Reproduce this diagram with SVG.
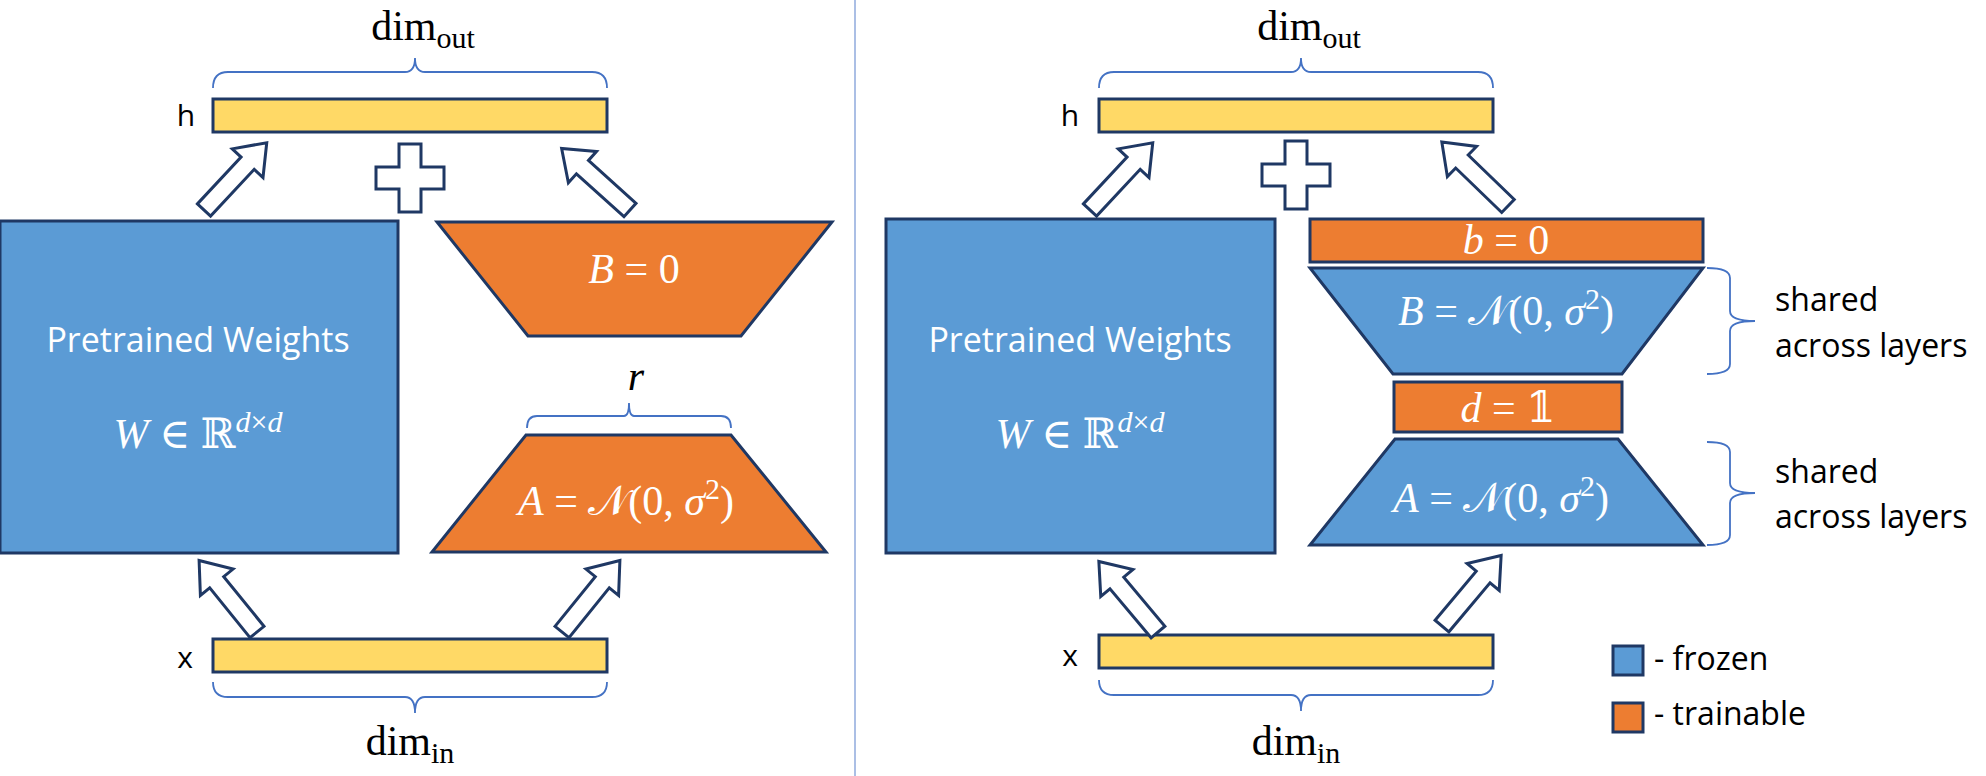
<svg xmlns="http://www.w3.org/2000/svg" width="1986" height="776" viewBox="0 0 1986 776">
<style>
.bar{fill:#FFD966;stroke:#1F3864;stroke-width:3}
.blue{fill:#5B9BD5;stroke:#1F3864;stroke-width:3}
.orange{fill:#ED7D31;stroke:#1F3864;stroke-width:3}
.arrow{fill:#fff;stroke:#1F3864;stroke-width:3;stroke-linejoin:miter}
.brace{fill:none;stroke:#4472C4;stroke-width:1.8}
.math{font-family:"Liberation Serif","DejaVu Serif",serif;font-size:42px}
.mw{fill:#fff}
.it{font-style:italic}
.sans{font-family:"Open Sans","Liberation Sans",sans-serif}
</style>
<defs>
<path id="arr" class="arrow" d="M0,-9 L64,-9 L64,-21 L92,0 L64,21 L64,9 L0,9 Z"/>
<path id="plus" class="arrow" d="M-11,-34 H11 V-11 H34 V11 H11 V34 H-11 V11 H-34 V-11 H-11 Z"/>
</defs>
<line x1="855" y1="0" x2="855" y2="776" stroke="#8FAADC" stroke-width="1.5"/>

<g id="left-panel">
<g id="dimout-left"><text x="423" y="40" class="math" text-anchor="middle">dim<tspan font-size="30" dy="8">out</tspan></text>
<path class="brace" d="M213,88 Q213,72 228,72 H405 Q415,72 415,58 Q415,72 425,72 H592 Q607,72 607,88"/></g>
<g id="h-left"><text x="186" y="126" class="sans" font-size="30" text-anchor="middle">h</text>
<rect class="bar" x="213" y="99" width="394" height="33"/></g>
<g id="plus-left"><use href="#plus" x="410" y="178"/></g>
<g id="W-left"><rect class="blue" x="0" y="221" width="398" height="332"/>
<text x="198" y="352" class="sans mw" font-size="34" text-anchor="middle">Pretrained Weights</text>
<text x="198" y="448" class="math mw" text-anchor="middle"><tspan class="it">W</tspan> ∈ ℝ<tspan class="it" font-size="30" dy="-16">d</tspan><tspan font-size="30">×</tspan><tspan class="it" font-size="30">d</tspan></text></g>
<g id="B-left"><polygon class="orange" points="437,222 832,222 741,336 528,336"/>
<text x="634" y="283" class="math mw" text-anchor="middle"><tspan class="it">B</tspan> = 0</text></g>
<g id="r-left"><text x="636" y="390" class="math it" text-anchor="middle">r</text>
<path class="brace" d="M527,428 Q527,416 537,416 H624 Q629,416 629,403 Q629,416 634,416 H721 Q731,416 731,428"/></g>
<g id="A-left"><polygon class="orange" points="526,435 731,435 826,552 432,552"/>
<text x="626" y="515" class="math mw" text-anchor="middle"><tspan class="it">A</tspan> = 𝒩(0, <tspan class="it">σ</tspan><tspan font-size="30" dy="-16">2</tspan><tspan dy="16">)</tspan></text></g>
<g id="x-left"><text x="185" y="668" class="sans" font-size="30" text-anchor="middle">x</text>
<rect class="bar" x="213" y="639" width="394" height="33"/>
<path class="brace" d="M213,682 Q213,697 228,697 H405 Q415,697 415,713 Q415,697 425,697 H592 Q607,697 607,682"/>
<text x="410" y="755" class="math" text-anchor="middle">dim<tspan font-size="30" dy="8">in</tspan></text></g>
</g>

<g id="right-panel">
<g id="dimout-right"><text x="1309" y="40" class="math" text-anchor="middle">dim<tspan font-size="30" dy="8">out</tspan></text>
<path class="brace" d="M1099,88 Q1099,72 1114,72 H1291 Q1301,72 1301,58 Q1301,72 1311,72 H1478 Q1493,72 1493,88"/></g>
<g id="h-right"><text x="1070" y="126" class="sans" font-size="30" text-anchor="middle">h</text>
<rect class="bar" x="1099" y="99" width="394" height="33"/></g>
<g id="plus-right"><use href="#plus" x="1296" y="175"/></g>
<g id="W-right"><rect class="blue" x="886" y="219" width="389" height="334"/>
<text x="1080" y="352" class="sans mw" font-size="34" text-anchor="middle">Pretrained Weights</text>
<text x="1080" y="448" class="math mw" text-anchor="middle"><tspan class="it">W</tspan> ∈ ℝ<tspan class="it" font-size="30" dy="-16">d</tspan><tspan font-size="30">×</tspan><tspan class="it" font-size="30">d</tspan></text></g>
<g id="b-right"><rect class="orange" x="1310" y="219" width="393" height="43"/>
<text x="1506" y="254" class="math mw" text-anchor="middle"><tspan class="it">b</tspan> = 0</text></g>
<g id="B-right"><polygon class="blue" points="1310,268 1703,268 1622,374 1393,374"/>
<text x="1506" y="325" class="math mw" text-anchor="middle"><tspan class="it">B</tspan> = 𝒩(0, <tspan class="it">σ</tspan><tspan font-size="30" dy="-16">2</tspan><tspan dy="16">)</tspan></text></g>
<g id="d-right"><rect class="orange" x="1394" y="382" width="228" height="50"/>
<text x="1508" y="422" class="math mw" text-anchor="middle"><tspan class="it">d</tspan> = 𝟙</text></g>
<g id="A-right"><polygon class="blue" points="1395,439 1618,439 1703,545 1310,545"/>
<text x="1501" y="512" class="math mw" text-anchor="middle"><tspan class="it">A</tspan> = 𝒩(0, <tspan class="it">σ</tspan><tspan font-size="30" dy="-16">2</tspan><tspan dy="16">)</tspan></text></g>
<g id="shared-1"><path class="brace" d="M1707,268 Q1730,268 1730,278 V311 Q1730,321 1755,321 Q1730,321 1730,331 V364 Q1730,374 1707,374"/>
<text class="sans" font-size="32"><tspan x="1775" y="311">shared</tspan><tspan x="1775" y="357">across layers</tspan></text></g>
<g id="shared-2"><path class="brace" d="M1707,442 Q1730,442 1730,452 V483 Q1730,493 1755,493 Q1730,493 1730,503 V535 Q1730,545 1707,545"/>
<text class="sans" font-size="32"><tspan x="1775" y="483">shared</tspan><tspan x="1775" y="528">across layers</tspan></text></g>
<g id="x-right"><text x="1070" y="666" class="sans" font-size="30" text-anchor="middle">x</text>
<rect class="bar" x="1099" y="635" width="394" height="33"/>
<path class="brace" d="M1099,680 Q1099,695 1114,695 H1291 Q1301,695 1301,711 Q1301,695 1311,695 H1478 Q1493,695 1493,680"/>
<text x="1296" y="755" class="math" text-anchor="middle">dim<tspan font-size="30" dy="8">in</tspan></text></g>
<g id="legend"><rect class="blue" x="1613" y="646" width="30" height="29"/>
<text x="1654" y="670" class="sans" font-size="32">- frozen</text>
<rect class="orange" x="1613" y="703" width="30" height="29"/>
<text x="1654" y="725" class="sans" font-size="32">- trainable</text></g>
</g>

<g id="connectors">
<use href="#arr" transform="translate(204,210) rotate(-47)"/>
<use href="#arr" transform="translate(630,210) rotate(-138)"/>
<use href="#arr" transform="translate(257,632) rotate(-129)"/>
<use href="#arr" transform="translate(562,632) rotate(-51)"/>
<use href="#arr" transform="translate(1090,210) rotate(-47)"/>
<use href="#arr" transform="translate(1508,206) rotate(-136)"/>
<use href="#arr" transform="translate(1158,632) rotate(-130)"/>
<use href="#arr" transform="translate(1442,626) rotate(-50)"/>
</g>
</svg>
